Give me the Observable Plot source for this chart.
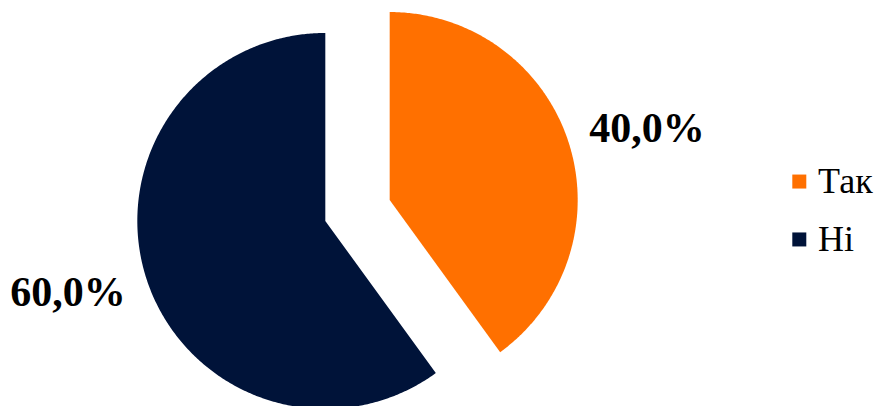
<!DOCTYPE html>
<html>
<head>
<meta charset="utf-8">
<script src="https://cdn.jsdelivr.net/npm/d3@7"></script>
<script src="https://cdn.jsdelivr.net/npm/@observablehq/plot@0.6"></script>
<style>
  html, body { margin: 0; padding: 0; background: #fff; }
</style>
</head>
<body>
<div id="wrap"></div>
<script>
const categories = ["Так", "Ні"];
const values = [40.0, 60.0];
const labels = ["40,0%", "60,0%"];
const colors = ["#FF7000", "#001339"];

const total = d3.sum(values);
const explode = 0.18;   // offset of each slice, in radii
const labelR = 1.6;     // label distance, in radii
const labelTurn = 2.2 * Math.PI / 180;
// legend layout (in radii, relative to pie centre)
const legendX = 2.35, legendTextGap = 0.10, legendRow = 0.308;

// angles clockwise from 12 o'clock
let acc = 0;
const slices = categories.map((c, i) => {
  const a0 = acc / total * 2 * Math.PI;
  acc += values[i];
  const a1 = acc / total * 2 * Math.PI;
  const mid = (a0 + a1) / 2;
  return {cat: c, value: values[i], label: labels[i], a0, a1, mid, i,
          ox: explode * Math.sin(mid), oy: explode * Math.cos(mid)};
});

// polygon points of each slice in unit-radius data space
const pts = [];
for (const s of slices) {
  pts.push({cat: s.cat, x: s.ox, y: s.oy});
  const n = Math.ceil((s.a1 - s.a0) / (Math.PI / 360));
  for (let k = 0; k <= n; k++) {
    const a = s.a0 + (s.a1 - s.a0) * k / n;
    pts.push({cat: s.cat, x: s.ox + Math.sin(a), y: s.oy + Math.cos(a)});
  }
  pts.push({cat: s.cat, x: s.ox, y: s.oy});
}

const legendY = d => ((categories.length - 1) / 2 - d.i) * legendRow;

const chart = Plot.plot({
  width: 877,
  height: 406,
  margin: 0,
  x: {domain: [-1, 1], range: [169, 545], axis: null},
  y: {domain: [-1, 1], range: [398, 22], axis: null},
  color: {domain: categories, range: colors},
  marks: [
    Plot.line(pts, {x: "x", y: "y", z: "cat", fill: "cat", stroke: null, curve: "linear"}),
    Plot.text(slices, {
      x: d => labelR * Math.sin(d.mid + labelTurn),
      y: d => labelR * Math.cos(d.mid + labelTurn),
      text: "label",
      fontSize: 42,
      fontWeight: "bold",
      fontFamily: "Liberation Serif",
      fill: "#000",
      textAnchor: "middle",
      lineAnchor: "middle"
    }),
    Plot.dot(slices, {x: () => legendX, y: legendY, symbol: "square", r: 7.9, fill: "cat", stroke: null}),
    Plot.text(slices, {
      x: () => legendX + legendTextGap,
      y: legendY,
      text: "cat",
      fontSize: 36,
      fontFamily: "Liberation Serif",
      fill: "#000",
      textAnchor: "start",
      lineAnchor: "middle"
    })
  ]
});

document.getElementById("wrap").appendChild(chart);
</script>
</body>
</html>
